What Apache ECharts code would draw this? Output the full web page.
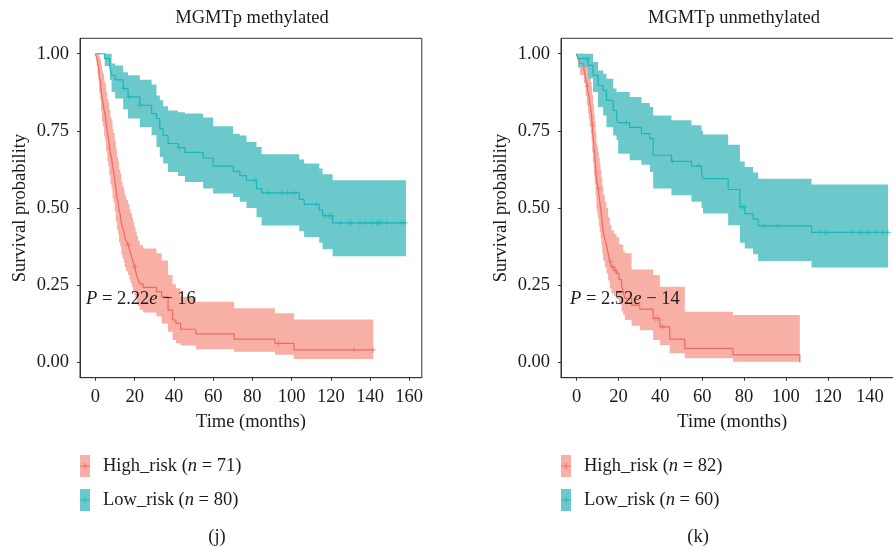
<!DOCTYPE html>
<html><head><meta charset="utf-8">
<script src="https://cdn.jsdelivr.net/npm/echarts@6/dist/echarts.min.js"></script>
<style>html,body{margin:0;padding:0;background:#fff}#c{width:893px;height:550px}</style>
</head><body><div id="c"></div>
<script>
// ---------- data ----------
const panelTitles = ['MGMTp methylated', 'MGMTp unmethylated'];
const panelTags = ['(j)', '(k)'];
const xTicksJ = [0, 20, 40, 60, 80, 100, 120, 140, 160];
const xTicksK = [0, 20, 40, 60, 80, 100, 120, 140];
const yTicks = [0, 0.25, 0.5, 0.75, 1];
const yTickLabels = ['0.00', '0.25', '0.50', '0.75', '1.00'];
const namesJ = ['High_risk (n = 71)', 'Low_risk (n = 80)'];
const namesK = ['High_risk (n = 82)', 'Low_risk (n = 60)'];
const pTexts = ['{i|P} = 2.22{i|e} − 16', '{i|P} = 2.52{i|e} − 14'];

// Panel j: MGMTp methylated, High_risk
const highTimeJ  = [0,0.6,1.1,1.5,1.9,2.4,2.8,3.3,3.8,4.4,4.9,5.4,6.0,6.5,7.0,7.6,8.2,8.7,9.2,9.8,10.4,10.9,11.5,12.0,12.6,13.2,13.8,14.5,14.9,15.6,16.6,17.3,17.9,18.6,19.2,19.8,20.4,21.0,21.7,22.6,24.3,31.1,33.7,37.0,39.3,41.0,43.4,51.2,70.7,91.5,101.2,141.6];
const highSurvJ  = [1,.986,.972,.958,.93,.915,.887,.86,.845,.817,.803,.775,.746,.732,.704,.676,.662,.634,.62,.592,.563,.535,.521,.493,.479,.451,.437,.423,.408,.394,.38,.366,.352,.338,.324,.31,.296,.282,.268,.254,.243,.229,.212,.169,.137,.126,.107,.092,.075,.061,.04,.04];
const highLowerJ = [1,.96,.934,.912,.872,.851,.815,.78,.763,.732,.716,.684,.652,.636,.606,.576,.561,.532,.517,.488,.458,.43,.416,.389,.375,.349,.336,.322,.308,.295,.282,.269,.256,.244,.231,.218,.206,.194,.182,.17,.161,.148,.126,.099,.072,.062,.054,.042,.034,.024,.011,.011];
const highUpperJ = [1,1,1,1,.991,.983,.965,.946,.935,.912,.901,.878,.853,.842,.818,.794,.781,.756,.743,.718,.692,.666,.652,.625,.612,.584,.57,.556,.541,.527,.512,.497,.483,.468,.453,.438,.423,.409,.394,.379,.369,.353,.33,.283,.253,.24,.212,.196,.175,.159,.139,.139];
const highCensorJ = [16.9, 20.3, 93.2, 131.9, 141.6];

// Panel j: MGMTp methylated, Low_risk
const lowTimeJ  = [0,4.7,7.3,8.2,10,14.1,16.6,22.6,28.6,31.1,32.8,34.5,37.0,42.1,45.6,54.9,60.0,70.2,73.6,77,82.1,84.7,103.9,106.4,114.1,115.8,120.9,158.3];
const lowSurvJ  = [1,.984,.957,.93,.915,.887,.86,.833,.806,.79,.757,.735,.709,.696,.68,.662,.636,.619,.605,.59,.563,.549,.528,.512,.493,.475,.452,.452];
const lowLowerJ = [1,.96,.915,.876,.855,.82,.79,.762,.736,.698,.665,.644,.617,.604,.584,.563,.547,.536,.52,.5,.471,.443,.425,.406,.387,.367,.344,.344];
const lowUpperJ = [1,1,1,.968,.962,.94,.93,.916,.9,.865,.849,.83,.816,.81,.806,.793,.765,.741,.735,.714,.698,.674,.657,.644,.628,.609,.59,.59];
const lowCensorJ = [14.6,17.1,22.6,42.7,81.3,88.4,95.2,97.8,101.3,112.7,117.0,119.2,120.4,125.0,129.2,130.3,134.8,137.9,141.3,143.4,144.5,145.4,148.5,156.1,157.8];

// Panel k: MGMTp unmethylated, High_risk
const highTimeK  = [0,0.8,1.6,3.5,4.4,4.9,5.5,5.9,6.3,6.8,7.2,7.5,7.9,8.3,8.7,9.1,9.5,9.9,10.3,10.7,11.1,11.5,11.9,12.3,12.7,13.5,14.3,15.1,15.9,16.7,17.9,19.1,20.3,21.5,22.3,23.1,26.3,30.2,36.6,39.8,44.5,51.7,74.7,106.6];
const highSurvK  = [1,.984,.968,.951,.919,.895,.876,.86,.843,.82,.80,.768,.736,.70,.671,.635,.595,.58,.563,.54,.52,.50,.477,.45,.423,.40,.38,.353,.326,.309,.298,.288,.268,.25,.228,.207,.185,.172,.142,.115,.075,.045,.024,0];
const highLowerK = [1,.957,.931,.905,.862,.832,.807,.788,.768,.74,.718,.681,.647,.607,.577,.54,.498,.481,.465,.441,.422,.402,.38,.355,.329,.308,.288,.265,.239,.223,.214,.205,.188,.165,.153,.137,.118,.104,.072,.056,.029,.013,.002,.002];
const highUpperK = [1,1,1,.999,.98,.963,.95,.938,.925,.909,.891,.866,.838,.807,.781,.747,.711,.699,.681,.662,.641,.622,.598,.571,.544,.52,.50,.47,.445,.428,.416,.405,.383,.38,.36,.353,.301,.301,.283,.245,.245,.164,.153,.153];
const highCensorK = [5.2, 7.6, 10.6, 16.2, 17.3, 18.5, 37.5, 38.6, 41.0];

// Panel k: MGMTp unmethylated, Low_risk
const lowTimeK  = [0,0.8,5.5,7.9,10.3,12.7,14.3,17.5,19.1,19.9,25.4,31.0,35.0,36.6,45.3,54.9,59.7,60.4,72.4,78.0,80.3,84.3,86.7,112.2,148.7];
const lowSurvK  = [1,.984,.962,.93,.897,.881,.849,.816,.79,.777,.761,.741,.725,.671,.651,.636,.612,.595,.56,.504,.482,.464,.442,.421,.421];
const lowLowerK = [1,.955,.92,.876,.827,.8,.762,.735,.72,.676,.655,.64,.617,.563,.541,.52,.50,.482,.444,.387,.369,.35,.328,.307,.307];
const lowUpperK = [1,1,1,.973,.946,.935,.919,.887,.876,.876,.86,.84,.827,.8,.784,.768,.75,.738,.705,.651,.633,.615,.595,.576,.576];
const lowCensorK = [5.1,23.9,45.8,58.5,78.8,80.0,89.1,96.2,115.8,118.5,119.6,131.3,135.2,136.3,138.9,140.0,143.2,146.4,148.7];

// ---------- styling ----------
const FONT = 'Liberation Serif';
const FS = 18.5;
const TXT = '#1a1a1a';
const AX = '#333';
const RED_LINE = '#EF6A61', RED_BAND = '#F8AFA6', TEAL_LINE = '#1AB6BA', TEAL_BAND = '#6BC9CB';
const PLUS = 'path://M4.3,0H5.7V4.3H10V5.7H5.7V10H4.3V5.7H0V4.3H4.3Z';

function survAt(times, surv, t) {
  let v = surv[0];
  for (let i = 0; i < times.length; i++) if (times[i] <= t) v = surv[i];
  return v;
}

function bandSeries(name, g, times, lo, hi, color) {
  return {
    name, type: 'custom', xAxisIndex: g, yAxisIndex: g, silent: true, z: 1,
    data: times.map((t, i) => [t, lo[i], hi[i]]),
    encode: { x: 0, y: [1, 2] },
    renderItem: function (params, api) {
      if (params.dataIndex !== 0) return null;
      const n = times.length, pts = [];
      for (let i = 0; i < n; i++) {
        const tn = i + 1 < n ? times[i + 1] : times[i];
        pts.push(api.coord([times[i], hi[i]]));
        pts.push(api.coord([tn, hi[i]]));
      }
      for (let i = n - 1; i >= 0; i--) {
        const tn = i + 1 < n ? times[i + 1] : times[i];
        pts.push(api.coord([tn, lo[i]]));
        pts.push(api.coord([times[i], lo[i]]));
      }
      return { type: 'polygon', shape: { points: pts }, style: { fill: color } };
    }
  };
}
function lineSeries(name, g, times, surv, color) {
  return {
    name, type: 'line', step: 'end', xAxisIndex: g, yAxisIndex: g, silent: true, z: 3,
    showSymbol: false, symbol: 'none',
    data: times.map((t, i) => [t, surv[i]]),
    lineStyle: { color, width: 1.2 }
  };
}
function censorSeries(name, g, ct, times, surv, color) {
  return {
    name, type: 'scatter', xAxisIndex: g, yAxisIndex: g, silent: true, z: 4,
    symbol: PLUS, symbolSize: 6,
    data: ct.map(t => [t, survAt(times, surv, t)]),
    itemStyle: { color }
  };
}
function xAxis(g, min, max, ticks) {
  return {
    type: 'value', gridIndex: g, min, max,
    name: 'Time (months)', nameLocation: 'middle', nameGap: 35,
    nameTextStyle: { fontFamily: FONT, fontSize: FS, color: TXT },
    axisLine: { show: true, onZero: false, lineStyle: { color: AX, width: 1 } },
    axisTick: { show: true, length: 3, customValues: ticks, lineStyle: { color: AX } },
    axisLabel: { customValues: ticks, margin: 10, fontFamily: FONT, fontSize: FS, color: TXT },
    splitLine: { show: false }
  };
}
function yAxis(g) {
  return {
    type: 'value', gridIndex: g, min: -0.05, max: 1.05,
    name: 'Survival probability', nameLocation: 'middle', nameGap: 50,
    nameTextStyle: { fontFamily: FONT, fontSize: FS, color: TXT },
    axisLine: { show: true, onZero: false, lineStyle: { color: AX, width: 1 } },
    axisTick: { show: true, length: 3, customValues: yTicks, lineStyle: { color: AX } },
    axisLabel: { customValues: yTicks, margin: 11, fontFamily: FONT, fontSize: FS, color: TXT,
      formatter: v => { const k = yTicks.findIndex(y => Math.abs(y - v) < 1e-9); return k >= 0 ? yTickLabels[k] : ''; } },
    splitLine: { show: false }
  };
}
function legend(left, names) {
  return {
    orient: 'vertical', left, top: 455, padding: 0, selectedMode: false,
    itemWidth: 10, itemHeight: 22, itemGap: 12,
    data: [
      { name: names[0], icon: 'rect', itemStyle: { color: RED_BAND, borderWidth: 0 } },
      { name: names[1], icon: 'rect', itemStyle: { color: TEAL_BAND, borderWidth: 0 } }
    ],
    formatter: n => n.replace('(n', '({i|n}'),
    textStyle: { fontFamily: FONT, fontSize: FS, color: TXT, padding: [0, 0, 0, 8],
      rich: { i: { fontFamily: FONT, fontSize: FS, color: TXT, fontStyle: 'italic' } } }
  };
}
function keyMarks(x, y, color) {
  return [
    { type: 'line', silent: true, z: 10, shape: { x1: x + 0.5, y1: y, x2: x + 9.5, y2: y }, style: { stroke: color, lineWidth: 1 } },
    { type: 'line', silent: true, z: 10, shape: { x1: x + 5, y1: y - 3, x2: x + 5, y2: y + 3 }, style: { stroke: color, lineWidth: 1 } }
  ];
}
function pText(x, text) {
  return { type: 'text', x, y: 299, silent: true, z: 10,
    style: { text, fontFamily: FONT, fontSize: FS, fill: TXT, verticalAlign: 'middle',
      rich: { i: { fontFamily: FONT, fontSize: FS, fill: TXT, fontStyle: 'italic' } } } };
}
const titleStyle = { fontFamily: FONT, fontSize: FS, fontWeight: 'normal', color: TXT };

const option = {
  animation: false,
  backgroundColor: '#fff',
  title: [
    { text: panelTitles[0], left: 252, top: 9, textAlign: 'center', padding: 0, textStyle: titleStyle },
    { text: panelTitles[1], left: 734, top: 9, textAlign: 'center', padding: 0, textStyle: titleStyle },
    { text: panelTags[0], left: 217, top: 528, textAlign: 'center', padding: 0, textStyle: titleStyle },
    { text: panelTags[1], left: 698, top: 528, textAlign: 'center', padding: 0, textStyle: titleStyle }
  ],
  grid: [
    { left: 80, top: 38.3, width: 341.8, height: 339.4, show: true, borderColor: AX, borderWidth: 1, containLabel: false, outerBoundsMode: 'none' },
    { left: 561, top: 38.3, width: 342.5, height: 339.4, show: true, borderColor: AX, borderWidth: 1, containLabel: false, outerBoundsMode: 'none' }
  ],
  xAxis: [xAxis(0, -7.9, 166.4, xTicksJ), xAxis(1, -7.4, 156.1, xTicksK)],
  yAxis: [yAxis(0), yAxis(1)],
  legend: [legend(80, namesJ), legend(561, namesK)],
  series: [
    bandSeries(namesJ[0], 0, highTimeJ, highLowerJ, highUpperJ, RED_BAND),
    bandSeries(namesJ[1], 0, lowTimeJ, lowLowerJ, lowUpperJ, TEAL_BAND),
    lineSeries(namesJ[0], 0, highTimeJ, highSurvJ, RED_LINE),
    lineSeries(namesJ[1], 0, lowTimeJ, lowSurvJ, TEAL_LINE),
    censorSeries(namesJ[0], 0, highCensorJ, highTimeJ, highSurvJ, RED_LINE),
    censorSeries(namesJ[1], 0, lowCensorJ, lowTimeJ, lowSurvJ, TEAL_LINE),
    bandSeries(namesK[0], 1, highTimeK, highLowerK, highUpperK, RED_BAND),
    bandSeries(namesK[1], 1, lowTimeK, lowLowerK, lowUpperK, TEAL_BAND),
    lineSeries(namesK[0], 1, highTimeK, highSurvK, RED_LINE),
    lineSeries(namesK[1], 1, lowTimeK, lowSurvK, TEAL_LINE),
    censorSeries(namesK[0], 1, highCensorK, highTimeK, highSurvK, RED_LINE),
    censorSeries(namesK[1], 1, lowCensorK, lowTimeK, lowSurvK, TEAL_LINE)
  ],
  graphic: [
    pText(86, pTexts[0]), pText(570, pTexts[1]),
    ...keyMarks(80, 466, RED_LINE), ...keyMarks(80, 500, TEAL_LINE),
    ...keyMarks(561, 466, RED_LINE), ...keyMarks(561, 500, TEAL_LINE)
  ]
};
const chart = echarts.init(document.getElementById('c'), null, { renderer: 'canvas' });
chart.setOption(option);
</script>
</body></html>
